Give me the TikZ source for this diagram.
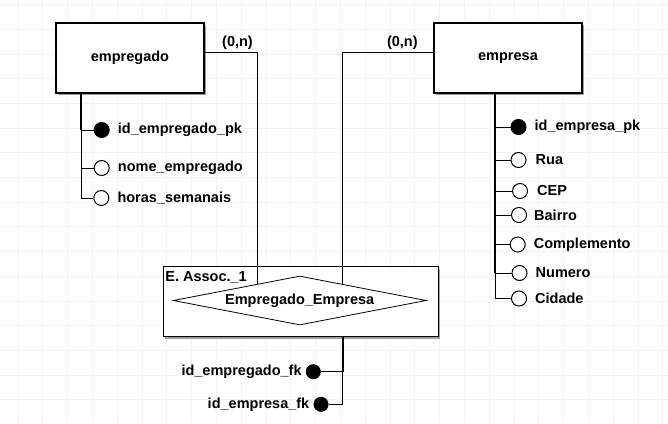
\documentclass[tikz,border=0pt]{standalone}
\usepackage{fontspec}
\setmainfont{Liberation Sans}
\usetikzlibrary{positioning}
\usetikzlibrary{calc}
\usetikzlibrary{shadows}
\usetikzlibrary{shapes.geometric}

\tikzset{
  texto/.style={font=\fontsize{14.5}{16}\selectfont\bfseries, inner sep=1pt},
  caixa/.style={draw, line width=1.2pt, fill=white, drop shadow={shadow xshift=2pt, shadow yshift=-2pt, fill=gray!75, opacity=1}},
  entidade/.style={caixa, texto, minimum width=148pt, minimum height=70pt},
  relac/.style={diamond, aspect=5.16, draw, line width=0.8pt, texto, inner sep=0pt, minimum width=253pt, minimum height=49pt},
  atrib/.style={circle, draw, line width=1pt, fill=white, minimum size=15pt, inner sep=0pt},
  chave/.style={atrib, fill=black},
  grossa/.style={line width=1.7pt},
  fina/.style={line width=0.9pt},
}

\begin{document}
\begin{tikzpicture}[x=1pt, y=-1pt]
\useasboundingbox (0,0) rectangle (668,423);
\fill[white] (0,0) rectangle (668,423);
% grade de fundo
\foreach \gx in {18,42.8,...,668} \draw[gray!10, line width=0.8pt] (\gx,0) -- (\gx,423);
\foreach \gy in {4.5,29.2,...,423} \draw[gray!10, line width=0.8pt] (0,\gy) -- (668,\gy);

% entidades
\node[entidade] (empregado) at (130,58) {empregado};
\node[entidade] (empresa) at (508,58) {empresa};

% entidade associativa
\node[caixa, minimum width=275pt, minimum height=70pt] (assoc) at (300.8,301.7) {};
\node[texto, anchor=north west, inner sep=2.5pt, yshift=-3pt] (assocnome) at (assoc.north west) {E. Assoc.\_1};
\node[relac] (rel) at (299.7,300.5) {Empregado\_Empresa};

% ligacoes com cardinalidade
\coordinate (p1) at ($(rel.west)!0.668!(rel.north)$);
\coordinate (p2) at ($(rel.east)!0.662!(rel.north)$);
\draw[fina] (empregado.east) ++(0,-5.7) -| (p1);
\draw[fina] (empresa.west) ++(0,-5.7) -| (p2);
\node[texto] (card1) at (237.5,42.5) {(0,n)};
\node[texto] (card2) at (402.3,43) {(0,n)};

% atributos de empregado
\coordinate (t1) at (81,0);
\node[chave] (idemp) at (101.7,130) {};
\node[atrib] (nome) at (101.7,168) {};
\node[atrib] (horas) at (101.3,198) {};
\node[texto, right=7pt of idemp] {id\_empregado\_pk};
\node[texto, right=7pt of nome] {nome\_empregado};
\node[texto, right=7pt of horas] {horas\_semanais};
\draw[grossa] (t1 |- empregado.south) -- (t1 |- idemp);
\draw[fina] (t1 |- idemp) -- (idemp.west);
\draw[fina] (t1 |- idemp) |- (nome.west);
\draw[fina] (t1 |- nome) |- (horas.west);

% atributos de empresa
\coordinate (t2) at (495,0);
\node[chave] (idempr) at (518.5,127) {};
\node[atrib] (rua) at (518.5,160) {};
\node[atrib] (cep) at (520,191) {};
\node[atrib] (bairro) at (519,215) {};
\node[atrib] (compl) at (517.7,244.5) {};
\node[atrib] (numero) at (519.5,273) {};
\node[atrib] (cidade) at (519,298.5) {};
\node[texto, right=7pt of idempr] {id\_empresa\_pk};
\node[texto, right=8pt of rua] {Rua};
\node[texto, right=8pt of cep] {CEP};
\node[texto, right=6pt of bairro] {Bairro};
\node[texto, right=7pt of compl] {Complemento};
\node[texto, right=7pt of numero] {Numero};
\node[texto, right=7pt of cidade] {Cidade};
\draw[grossa] (t2 |- empresa.south) -- (t2 |- numero);
\draw[fina] (t2 |- idempr) -- (idempr.west);
\draw[fina] (t2 |- rua) -- (rua.west);
\draw[fina] (t2 |- cep) -- (cep.west);
\draw[fina] (t2 |- bairro) -- (bairro.west);
\draw[fina] (t2 |- compl) -- (compl.west);
\draw[fina] (t2 |- numero) -- (numero.west);
\draw[fina] (t2 |- numero) |- (cidade.west);

% chaves estrangeiras
\coordinate (t3) at (342.7,0);
\node[chave, minimum size=14pt] (fkemp) at (313.3,371.7) {};
\node[chave, minimum size=14pt] (fkempr) at (321,404.3) {};
\node[texto, left=3pt of fkemp] {id\_empregado\_fk};
\node[texto, left=3pt of fkempr] {id\_empresa\_fk};
\draw[grossa] (t3 |- assoc.south) -- (t3 |- fkemp);
\draw[fina] (t3 |- fkemp) -- (fkemp.east);
\draw[fina] (t3 |- fkemp) |- (fkempr.east);
\end{tikzpicture}
\end{document}
